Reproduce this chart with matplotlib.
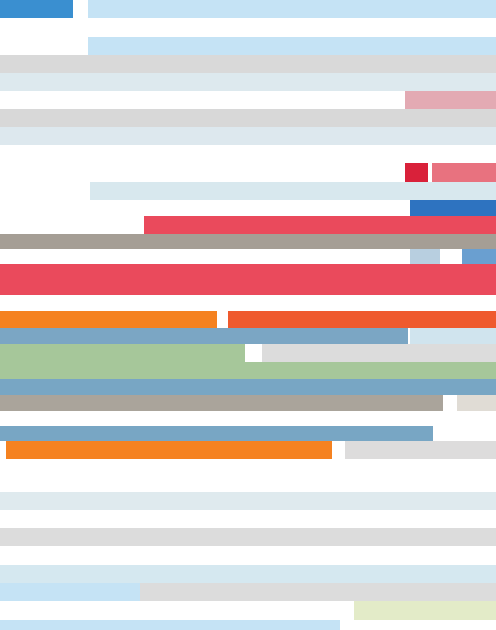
import matplotlib
matplotlib.use("Agg")
import matplotlib.pyplot as plt

# each segment: row top, row height, left, right, colour
row_top   = [0,0,37,55,73,91,109,127,163,163,182,200,216,234,249,249,264,311,311,328,328,344,344,362,379,395,395,426,441,441,492,528,565,583,583,601,620]
row_h     = [18,18,18,18,18,18,18,18,19,19,18,16,18,15,15,15,31,17,17,16,16,18,18,17,16,16,16,15,18,18,18,18,18,18,18,19,10]
seg_left  = [0,88,88,0,0,405,0,0,405,432,90,410,144,0,410,462,0,0,228,0,410,0,262,0,0,0,457,0,6,345,0,0,0,0,140,354,0]
seg_right = [73,496,496,496,496,496,496,496,428,496,496,496,496,496,440,496,496,217,496,408,496,245,496,496,496,443,496,433,332,496,496,496,496,140,496,496,340]
colors = ['#3a8fd0','#c5e3f5','#c5e3f5','#d9d9d9','#dde9ee','#e3aab3','#d8d8d8','#dde8ee',
          '#d9213a','#e8727f','#d8e8ee','#2e73c0','#ea4a5c','#a59e95','#b8cfe0','#6a9fd0',
          '#ea4a5c','#f58220','#ef5a2e','#7ba6c4','#d0e4ee','#a6c79a','#dcdcdc','#a6c79a',
          '#78a6c4','#aaa49b','#e0dcd5','#78a6c4','#f58220','#dddcdc','#dfeaee','#dcdcdc',
          '#d5e8f0','#c5e3f5','#dcdcdc','#e3ebc8','#c5e3f5']

fig = plt.figure(figsize=(4.96, 6.3), dpi=100)
ax = fig.add_axes([0, 0, 1, 1])
for t, h, l, r, c in zip(row_top, row_h, seg_left, seg_right, colors):
    ax.barh(t + h / 2, r - l, height=h, left=l, color=c, linewidth=0)
ax.set_xlim(0, 496)
ax.set_ylim(630, 0)
ax.axis('off')
fig.savefig('out.png', dpi=100)
